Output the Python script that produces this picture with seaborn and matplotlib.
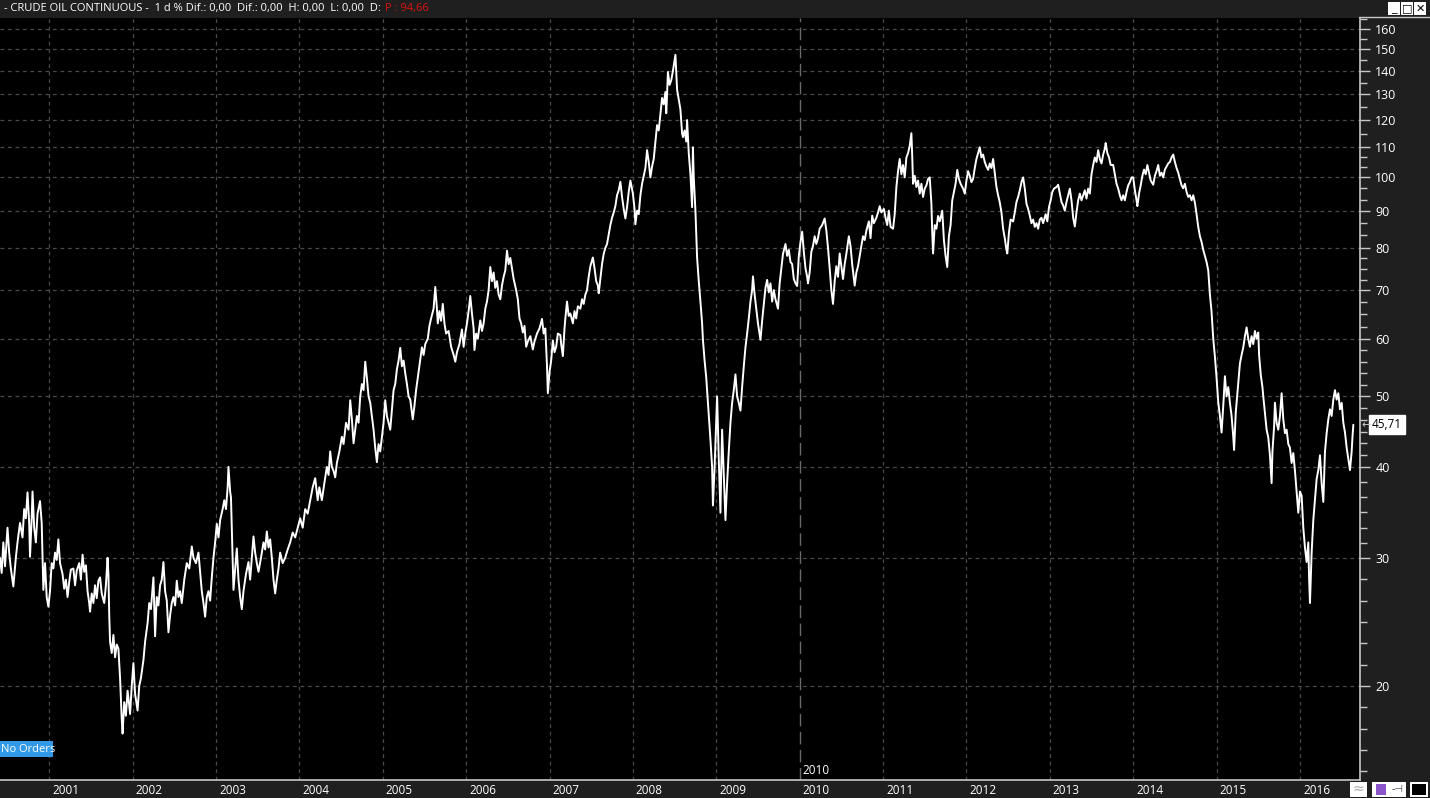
import numpy as np
import pandas as pd
import matplotlib
matplotlib.use("Agg")
import matplotlib.pyplot as plt
import matplotlib.transforms as mtransforms
from matplotlib.patches import Rectangle
from matplotlib.ticker import FixedLocator, NullFormatter
import seaborn as sns

# price path, one list per year: (decimal year, price)
seg_2000 = [(2000.41, 30.0), (2000.43, 28.6), (2000.45, 31.5), (2000.47, 29.2), (2000.50, 33.0),
            (2000.52, 30.5), (2000.54, 29.0), (2000.57, 27.4), (2000.60, 30.0), (2000.62, 31.5),
            (2000.65, 33.5), (2000.68, 32.0), (2000.70, 35.0), (2000.72, 34.0), (2000.74, 36.9),
            (2000.76, 33.5), (2000.77, 30.1), (2000.79, 34.0), (2000.80, 37.0), (2000.82, 33.0),
            (2000.84, 31.5), (2000.86, 34.5), (2000.89, 35.9), (2000.91, 33.5), (2000.93, 27.1),
            (2000.95, 29.5), (2000.97, 26.5), (2000.99, 25.7)]
seg_2001 = [(2001.01, 27.0), (2001.03, 29.5), (2001.05, 29.0), (2001.07, 30.5), (2001.09, 29.8),
            (2001.11, 31.8), (2001.13, 29.5), (2001.16, 28.5), (2001.18, 27.2), (2001.20, 28.0),
            (2001.22, 26.5), (2001.24, 27.8), (2001.26, 28.9), (2001.29, 29.0), (2001.31, 27.5),
            (2001.33, 28.8), (2001.36, 29.5), (2001.38, 28.0), (2001.40, 30.3), (2001.42, 28.7),
            (2001.44, 29.3), (2001.46, 27.0), (2001.48, 26.0), (2001.49, 25.3), (2001.51, 26.8),
            (2001.53, 26.0), (2001.55, 27.5), (2001.57, 26.4), (2001.59, 27.9), (2001.61, 28.2),
            (2001.63, 26.8), (2001.66, 26.0), (2001.68, 27.5), (2001.70, 30.0), (2001.71, 28.5),
            (2001.72, 25.0), (2001.73, 23.0), (2001.75, 22.2), (2001.77, 23.5), (2001.79, 21.9),
            (2001.81, 22.8), (2001.83, 22.5), (2001.85, 20.5), (2001.87, 18.0), (2001.88, 17.2),
            (2001.90, 19.0), (2001.92, 18.2), (2001.94, 19.7), (2001.96, 18.8), (2001.97, 18.3),
            (2001.99, 20.0)]
seg_2002 = [(2002.01, 21.5), (2002.03, 19.5), (2002.06, 18.5), (2002.08, 20.0), (2002.10, 20.5),
            (2002.13, 21.7), (2002.15, 23.0), (2002.18, 24.4), (2002.20, 26.0), (2002.22, 25.5),
            (2002.25, 28.2), (2002.27, 23.4), (2002.29, 26.5), (2002.31, 25.8), (2002.33, 27.5),
            (2002.35, 28.0), (2002.37, 29.6), (2002.39, 27.0), (2002.41, 26.2), (2002.43, 23.7),
            (2002.45, 25.0), (2002.47, 26.0), (2002.49, 26.5), (2002.51, 25.8), (2002.53, 27.9),
            (2002.55, 26.5), (2002.57, 27.0), (2002.59, 26.0), (2002.62, 28.0), (2002.65, 29.5),
            (2002.68, 29.0), (2002.71, 31.1), (2002.73, 30.0), (2002.76, 29.5), (2002.79, 30.5),
            (2002.81, 28.7), (2002.83, 27.0), (2002.85, 26.0), (2002.87, 24.9), (2002.89, 26.5),
            (2002.91, 27.0), (2002.93, 26.2), (2002.95, 28.2), (2002.97, 30.0), (2002.99, 31.5)]
seg_2003 = [(2003.01, 33.4), (2003.03, 32.0), (2003.05, 33.8), (2003.08, 35.0), (2003.10, 36.0),
            (2003.12, 35.0), (2003.14, 37.5), (2003.15, 40.0), (2003.17, 37.0), (2003.18, 36.3),
            (2003.20, 30.0), (2003.21, 27.1), (2003.23, 29.0), (2003.25, 30.9), (2003.27, 28.0),
            (2003.29, 26.5), (2003.31, 25.5), (2003.33, 27.0), (2003.36, 28.5), (2003.39, 29.6),
            (2003.41, 28.0), (2003.43, 30.0), (2003.45, 32.1), (2003.47, 30.5), (2003.49, 29.5),
            (2003.51, 28.7), (2003.54, 30.0), (2003.57, 31.5), (2003.59, 30.8), (2003.61, 32.6),
            (2003.63, 31.0), (2003.65, 31.8), (2003.67, 30.0), (2003.69, 28.0), (2003.71, 26.8),
            (2003.73, 28.0), (2003.75, 29.0), (2003.77, 30.5), (2003.80, 29.5), (2003.83, 30.0),
            (2003.86, 30.8), (2003.89, 31.5), (2003.92, 32.5), (2003.95, 32.0), (2003.98, 33.0)]
seg_2004 = [(2004.01, 34.0), (2004.04, 33.0), (2004.07, 35.0), (2004.10, 34.5), (2004.13, 36.0),
            (2004.16, 37.5), (2004.19, 38.6), (2004.22, 36.0), (2004.24, 37.5), (2004.27, 36.0),
            (2004.30, 38.0), (2004.33, 40.0), (2004.35, 39.0), (2004.37, 42.0), (2004.39, 40.0),
            (2004.41, 39.5), (2004.43, 38.7), (2004.45, 40.5), (2004.48, 42.0), (2004.51, 44.0),
            (2004.53, 43.0), (2004.56, 46.0), (2004.59, 45.0), (2004.61, 49.4), (2004.63, 46.5),
            (2004.65, 43.1), (2004.67, 45.0), (2004.69, 47.0), (2004.71, 46.0), (2004.73, 50.0),
            (2004.75, 52.0), (2004.77, 51.0), (2004.79, 55.8), (2004.81, 53.0), (2004.83, 50.0),
            (2004.85, 49.0), (2004.87, 47.0), (2004.89, 45.0), (2004.91, 42.5), (2004.93, 40.6),
            (2004.95, 43.0), (2004.97, 42.0), (2004.99, 44.0)]
seg_2005 = [(2005.01, 46.0), (2005.03, 49.4), (2005.05, 47.0), (2005.07, 46.0), (2005.09, 45.0),
            (2005.11, 48.0), (2005.13, 51.0), (2005.15, 52.0), (2005.17, 54.5), (2005.19, 56.0),
            (2005.21, 58.3), (2005.23, 55.0), (2005.25, 56.0), (2005.27, 53.8), (2005.29, 52.0),
            (2005.31, 50.0), (2005.33, 49.5), (2005.36, 46.5), (2005.38, 48.5), (2005.40, 51.0),
            (2005.42, 53.0), (2005.44, 55.0), (2005.47, 58.4), (2005.49, 57.0), (2005.51, 59.0),
            (2005.54, 60.0), (2005.56, 62.5), (2005.58, 64.0), (2005.61, 66.0), (2005.63, 70.7),
            (2005.65, 66.0), (2005.66, 63.0), (2005.68, 65.5), (2005.70, 63.5), (2005.72, 67.0),
            (2005.74, 63.0), (2005.76, 61.0), (2005.79, 61.5), (2005.82, 58.5), (2005.85, 57.0),
            (2005.87, 55.8), (2005.89, 57.5), (2005.92, 59.0), (2005.95, 61.8), (2005.97, 58.5),
            (2005.99, 61.0)]
seg_2006 = [(2006.01, 63.0), (2006.03, 65.5), (2006.05, 68.7), (2006.07, 65.0), (2006.09, 62.0),
            (2006.10, 57.9), (2006.12, 61.0), (2006.14, 60.0), (2006.17, 63.6), (2006.19, 61.5),
            (2006.21, 63.0), (2006.23, 66.0), (2006.25, 67.5), (2006.27, 70.0), (2006.29, 75.3),
            (2006.31, 72.0), (2006.33, 74.0), (2006.35, 70.5), (2006.37, 72.0), (2006.39, 69.0),
            (2006.41, 68.0), (2006.43, 71.0), (2006.45, 73.0), (2006.47, 74.5), (2006.49, 79.3),
            (2006.51, 76.0), (2006.53, 77.5), (2006.55, 75.0), (2006.57, 72.5), (2006.60, 70.0),
            (2006.62, 68.0), (2006.64, 64.0), (2006.66, 63.0), (2006.68, 61.2), (2006.70, 62.5),
            (2006.72, 58.5), (2006.74, 59.5), (2006.77, 60.5), (2006.80, 58.0), (2006.82, 59.5),
            (2006.85, 61.0), (2006.88, 62.0), (2006.91, 63.9), (2006.93, 61.0), (2006.95, 62.0),
            (2006.97, 55.0), (2006.98, 50.5)]
seg_2007 = [(2007.00, 54.0), (2007.02, 56.0), (2007.04, 59.7), (2007.06, 57.5), (2007.08, 58.5),
            (2007.10, 61.0), (2007.13, 60.7), (2007.14, 59.0), (2007.16, 56.8), (2007.18, 62.0),
            (2007.19, 64.0), (2007.21, 67.5), (2007.23, 64.5), (2007.25, 65.0), (2007.28, 63.0),
            (2007.30, 65.5), (2007.32, 64.0), (2007.34, 66.5), (2007.37, 66.0), (2007.39, 68.0),
            (2007.41, 67.0), (2007.43, 69.0), (2007.45, 70.0), (2007.47, 73.0), (2007.49, 75.5),
            (2007.52, 77.6), (2007.54, 75.0), (2007.56, 72.0), (2007.58, 71.0), (2007.59, 69.3),
            (2007.61, 72.5), (2007.63, 76.0), (2007.65, 78.5), (2007.67, 80.0), (2007.69, 81.0),
            (2007.71, 83.5), (2007.73, 86.0), (2007.75, 88.0), (2007.77, 89.5), (2007.79, 91.3),
            (2007.81, 94.5), (2007.83, 96.0), (2007.85, 98.6), (2007.87, 94.0), (2007.89, 90.5),
            (2007.91, 87.8), (2007.93, 91.0), (2007.95, 95.5), (2007.97, 99.0)]
seg_2008 = [(2008.00, 95.0), (2008.02, 90.5), (2008.03, 86.2), (2008.05, 90.0), (2008.07, 89.0),
            (2008.09, 94.5), (2008.11, 98.0), (2008.13, 100.5), (2008.15, 103.0), (2008.17, 109.0),
            (2008.19, 105.0), (2008.21, 100.0), (2008.23, 103.5), (2008.25, 106.0), (2008.27, 112.0),
            (2008.29, 118.0), (2008.31, 116.0), (2008.33, 122.0), (2008.35, 128.6), (2008.37, 126.0),
            (2008.39, 131.0), (2008.40, 122.5), (2008.41, 130.0), (2008.42, 139.6), (2008.44, 134.0),
            (2008.46, 136.0), (2008.48, 140.0), (2008.50, 145.0), (2008.51, 147.4), (2008.53, 132.0),
            (2008.55, 128.0), (2008.57, 124.0), (2008.59, 115.0), (2008.60, 113.6), (2008.62, 116.0),
            (2008.64, 112.0), (2008.65, 119.9), (2008.67, 108.0), (2008.69, 101.0), (2008.71, 91.0),
            (2008.72, 110.0), (2008.73, 100.0), (2008.75, 90.0), (2008.77, 77.6), (2008.79, 72.0),
            (2008.81, 67.5), (2008.83, 63.0), (2008.84, 59.8), (2008.86, 56.0), (2008.88, 53.0),
            (2008.89, 51.0), (2008.91, 47.0), (2008.93, 43.6), (2008.95, 40.0), (2008.96, 35.4),
            (2008.98, 40.0)]
seg_2009 = [(2009.01, 50.0), (2009.03, 41.0), (2009.05, 34.6), (2009.06, 40.0), (2009.07, 45.0),
            (2009.09, 39.0), (2009.11, 33.8), (2009.13, 38.0), (2009.15, 42.0), (2009.17, 46.0),
            (2009.19, 49.0), (2009.21, 51.0), (2009.23, 53.6), (2009.25, 50.0), (2009.27, 49.0),
            (2009.29, 47.8), (2009.31, 51.5), (2009.33, 55.0), (2009.35, 58.4), (2009.37, 61.0),
            (2009.39, 64.0), (2009.41, 67.5), (2009.43, 70.0), (2009.44, 73.1), (2009.46, 69.0),
            (2009.48, 66.0), (2009.50, 63.0), (2009.53, 59.8), (2009.55, 63.5), (2009.57, 67.0),
            (2009.59, 70.5), (2009.61, 72.3), (2009.63, 69.5), (2009.65, 71.5), (2009.67, 67.5),
            (2009.69, 70.0), (2009.71, 68.0), (2009.74, 66.0), (2009.76, 71.5), (2009.78, 75.0),
            (2009.80, 78.5), (2009.83, 81.0), (2009.85, 78.0), (2009.87, 79.5), (2009.89, 76.5),
            (2009.91, 76.0), (2009.93, 72.5), (2009.95, 71.5), (2009.97, 70.9), (2009.99, 78.0)]
seg_2010 = [(2010.01, 81.5), (2010.03, 84.2), (2010.05, 79.0), (2010.07, 75.0), (2010.09, 73.0),
            (2010.10, 71.5), (2010.12, 74.0), (2010.14, 79.0), (2010.16, 80.5), (2010.18, 83.0),
            (2010.20, 81.0), (2010.22, 82.5), (2010.24, 85.0), (2010.27, 86.0), (2010.30, 87.8),
            (2010.32, 84.5), (2010.34, 80.0), (2010.36, 75.0), (2010.38, 70.0), (2010.40, 67.0),
            (2010.42, 72.0), (2010.44, 75.5), (2010.46, 73.0), (2010.48, 78.6), (2010.50, 75.5),
            (2010.52, 72.5), (2010.54, 76.0), (2010.56, 78.5), (2010.59, 83.0), (2010.61, 80.5),
            (2010.63, 76.0), (2010.66, 71.0), (2010.68, 74.0), (2010.70, 75.5), (2010.72, 78.0),
            (2010.74, 80.5), (2010.76, 83.0), (2010.78, 82.0), (2010.80, 84.5), (2010.83, 87.0),
            (2010.85, 82.5), (2010.87, 88.6), (2010.89, 86.5), (2010.92, 88.0), (2010.94, 89.5),
            (2010.96, 91.3), (2010.98, 89.5)]
seg_2011 = [(2011.01, 90.5), (2011.03, 88.0), (2011.05, 86.0), (2011.07, 90.0), (2011.09, 85.5),
            (2011.12, 85.0), (2011.14, 89.0), (2011.16, 97.0), (2011.18, 102.0), (2011.20, 106.0),
            (2011.22, 101.0), (2011.24, 104.0), (2011.26, 100.0), (2011.28, 106.5), (2011.30, 108.0),
            (2011.32, 110.5), (2011.34, 115.0), (2011.35, 107.0), (2011.36, 98.0), (2011.38, 100.5),
            (2011.40, 97.0), (2011.42, 99.0), (2011.44, 95.0), (2011.46, 98.0), (2011.48, 94.0),
            (2011.50, 96.5), (2011.52, 97.5), (2011.54, 99.5), (2011.56, 100.0), (2011.58, 92.0),
            (2011.59, 84.0), (2011.60, 78.6), (2011.62, 86.0), (2011.64, 85.0), (2011.66, 88.5),
            (2011.68, 87.0), (2011.71, 90.0), (2011.73, 82.0), (2011.75, 78.0), (2011.77, 75.3),
            (2011.79, 83.0), (2011.81, 86.0), (2011.83, 93.0), (2011.85, 95.5), (2011.87, 98.0),
            (2011.89, 102.4), (2011.91, 99.5), (2011.93, 98.0), (2011.96, 96.5), (2011.98, 95.0)]
seg_2012 = [(2012.00, 99.0), (2012.02, 102.0), (2012.04, 100.5), (2012.06, 98.5), (2012.08, 99.5),
            (2012.10, 103.0), (2012.12, 106.0), (2012.14, 108.0), (2012.16, 110.0), (2012.18, 106.5),
            (2012.20, 107.5), (2012.22, 105.0), (2012.24, 103.5), (2012.26, 102.4), (2012.28, 104.5),
            (2012.30, 103.0), (2012.32, 106.0), (2012.34, 101.5), (2012.36, 97.0), (2012.38, 94.5),
            (2012.40, 92.4), (2012.42, 89.5), (2012.44, 85.0), (2012.46, 82.5), (2012.48, 79.5),
            (2012.49, 78.6), (2012.51, 84.0), (2012.53, 87.5), (2012.56, 87.0), (2012.58, 89.5),
            (2012.60, 92.5), (2012.62, 94.0), (2012.64, 96.0), (2012.66, 98.5), (2012.68, 100.0),
            (2012.70, 96.5), (2012.72, 92.0), (2012.74, 90.5), (2012.76, 88.6), (2012.78, 86.5),
            (2012.80, 87.5), (2012.82, 85.5), (2012.84, 86.5), (2012.86, 85.0), (2012.88, 87.5),
            (2012.90, 88.0), (2012.92, 86.5), (2012.95, 89.0), (2012.97, 87.0), (2012.99, 91.0)]
seg_2013 = [(2013.01, 93.0), (2013.03, 95.5), (2013.05, 96.5), (2013.08, 97.0), (2013.10, 97.7),
            (2013.12, 95.0), (2013.14, 92.5), (2013.16, 91.5), (2013.18, 90.0), (2013.20, 92.5),
            (2013.22, 94.5), (2013.24, 96.5), (2013.26, 93.0), (2013.28, 88.0), (2013.30, 85.6),
            (2013.32, 89.5), (2013.34, 93.0), (2013.36, 95.0), (2013.38, 93.0), (2013.40, 94.5),
            (2013.42, 96.0), (2013.44, 93.5), (2013.46, 96.5), (2013.48, 95.0), (2013.50, 101.0),
            (2013.52, 104.0), (2013.54, 106.5), (2013.56, 105.0), (2013.58, 109.0), (2013.60, 106.0),
            (2013.62, 104.5), (2013.64, 107.5), (2013.66, 109.5), (2013.67, 111.5), (2013.69, 108.0),
            (2013.71, 106.5), (2013.73, 104.0), (2013.76, 104.0), (2013.78, 101.0), (2013.80, 98.0),
            (2013.82, 96.5), (2013.84, 94.5), (2013.86, 93.0), (2013.88, 94.5), (2013.90, 93.0),
            (2013.92, 95.5), (2013.94, 97.5), (2013.96, 98.5), (2013.98, 100.0)]
seg_2014 = [(2014.00, 100.0), (2014.02, 96.0), (2014.04, 93.0), (2014.05, 91.3), (2014.07, 95.0),
            (2014.09, 97.5), (2014.11, 100.5), (2014.13, 102.5), (2014.15, 101.0), (2014.17, 104.0),
            (2014.19, 101.5), (2014.21, 99.0), (2014.24, 97.7), (2014.26, 100.5), (2014.28, 102.0),
            (2014.30, 104.0), (2014.32, 100.5), (2014.34, 101.5), (2014.36, 100.0), (2014.38, 102.5),
            (2014.40, 103.5), (2014.42, 104.5), (2014.44, 105.0), (2014.46, 106.5), (2014.48, 107.5),
            (2014.50, 105.0), (2014.52, 103.0), (2014.54, 101.5), (2014.56, 99.5), (2014.58, 97.5),
            (2014.60, 96.6), (2014.62, 98.0), (2014.64, 95.5), (2014.66, 94.0), (2014.68, 94.5),
            (2014.70, 93.0), (2014.72, 94.5), (2014.74, 92.3), (2014.76, 89.0), (2014.78, 85.5),
            (2014.80, 83.0), (2014.82, 81.5), (2014.84, 79.5), (2014.86, 78.0), (2014.88, 76.5),
            (2014.90, 74.5), (2014.92, 69.0), (2014.94, 65.3), (2014.96, 60.0), (2014.98, 56.7)]
seg_2015 = [(2015.00, 53.0), (2015.02, 49.1), (2015.04, 47.0), (2015.06, 44.6), (2015.08, 48.5),
            (2015.10, 53.3), (2015.12, 50.0), (2015.14, 51.5), (2015.16, 49.0), (2015.18, 47.0),
            (2015.20, 44.0), (2015.21, 42.2), (2015.23, 47.5), (2015.25, 50.5), (2015.26, 52.0),
            (2015.28, 55.5), (2015.30, 57.0), (2015.32, 58.4), (2015.34, 60.5), (2015.36, 62.2),
            (2015.38, 60.0), (2015.40, 58.5), (2015.42, 60.5), (2015.44, 59.0), (2015.46, 61.5),
            (2015.48, 60.0), (2015.50, 61.2), (2015.51, 57.0), (2015.53, 53.5), (2015.55, 51.5),
            (2015.56, 50.0), (2015.58, 47.5), (2015.60, 45.0), (2015.62, 43.9), (2015.64, 41.5),
            (2015.66, 38.0), (2015.67, 42.0), (2015.69, 45.5), (2015.70, 49.0), (2015.72, 46.0),
            (2015.74, 45.0), (2015.76, 47.0), (2015.78, 50.5), (2015.80, 46.5), (2015.82, 44.5),
            (2015.84, 45.0), (2015.86, 43.0), (2015.88, 42.5), (2015.90, 40.5), (2015.92, 41.8),
            (2015.94, 39.5), (2015.96, 37.0), (2015.98, 34.6)]
seg_2016 = [(2016.00, 37.0), (2016.02, 36.5), (2016.04, 33.0), (2016.06, 31.0), (2016.08, 29.6),
            (2016.10, 31.5), (2016.11, 28.0), (2016.12, 26.0), (2016.14, 30.5), (2016.16, 33.8),
            (2016.18, 36.0), (2016.20, 38.5), (2016.22, 39.6), (2016.24, 41.5), (2016.26, 38.0),
            (2016.28, 35.8), (2016.30, 42.0), (2016.32, 44.5), (2016.34, 46.5), (2016.36, 48.0),
            (2016.38, 47.0), (2016.40, 49.5), (2016.42, 51.0), (2016.44, 49.5), (2016.46, 50.5),
            (2016.48, 48.0), (2016.50, 49.0), (2016.52, 46.0), (2016.54, 44.6), (2016.56, 42.5),
            (2016.58, 41.0), (2016.60, 39.6), (2016.62, 42.0), (2016.63, 44.0), (2016.64, 45.71)]

year_ticks = list(range(2001, 2017))
price_ticks = [20, 30, 40, 50, 60, 70, 80, 90, 100, 110, 120, 130, 140, 150, 160]
minor_steps = [6, 6, 6, 5, 4, 4, 3, 3, 3, 2, 2, 2, 2, 2]
last_price = 45.71
last_label = "45,71"
title_text = "- CRUDE OIL CONTINUOUS -  1 d % Dif.: 0,00  Dif.: 0,00  H: 0,00  L: 0,00  D:"
title_price = "P : 94,66"

segments = [seg_2000, seg_2001, seg_2002, seg_2003, seg_2004, seg_2005, seg_2006, seg_2007,
            seg_2008, seg_2009, seg_2010, seg_2011, seg_2012, seg_2013, seg_2014, seg_2015,
            seg_2016]
df = pd.DataFrame([p for seg in segments for p in seg], columns=["year", "price"])

sns.set_theme(style="dark")
plt.rcParams["font.family"] = ["Open Sans", "DejaVu Sans"]

W, H = 1430, 798
BG = "#1f1f1f"
AXC = "#c8c8c8"
GRID = "#4a4a4a"


def fx(x):
    return x / W


def fy(y):
    return 1 - y / H


fig = plt.figure(figsize=(W / 100, H / 100), dpi=100, facecolor=BG)
ax = fig.add_axes([0, 18 / H, 1360 / W, 762 / H])
ax.set_facecolor("black")

for v in price_ticks:
    ax.axhline(v, color=GRID, lw=0.9, ls=(0, (3, 3)), zorder=1)
for yr in year_ticks:
    if yr == 2010:
        ax.axvline(yr, color="#6a6a6a", lw=1.0, ls=(0, (9, 4)), zorder=1)
    else:
        ax.axvline(yr, color=GRID, lw=0.9, ls=(0, (3, 3)), zorder=1)

sns.lineplot(data=df, x="year", y="price", ax=ax, color="white", lw=1.4,
             estimator=None, sort=False, zorder=3)

ax.set_yscale("log")
ax.set_xlim(2000.41, 2016.72)
ax.set_ylim(14.85, 165.6)
ax.set_xlabel("")
ax.set_ylabel("")
ax.grid(False)

# right price scale
ax.yaxis.tick_right()
ax.set_yticks(price_ticks)
ax.set_yticklabels([str(v) for v in price_ticks])
minor = []
for (a, b), n in zip(zip(price_ticks[:-1], price_ticks[1:]), minor_steps):
    minor += [a * (b / a) ** (k / n) for k in range(1, n)]
minor += [20 * 1.5 ** (-k / 6) for k in range(1, 5)]
minor += [160 * (160 / 150) ** 0.5]
ax.yaxis.set_minor_locator(FixedLocator(minor))
ax.yaxis.set_minor_formatter(NullFormatter())
ax.tick_params(axis="y", which="major", length=7, width=1, color=AXC,
               labelcolor="white", labelsize=9, pad=4, direction="out")
ax.tick_params(axis="y", which="minor", length=5, width=1, color=AXC, direction="out")

# time scale
ax.set_xticks(year_ticks)
ax.set_xticklabels([])
ax.tick_params(axis="x", which="major", length=7, width=1, color=AXC, direction="out")
for s in ["top", "left"]:
    ax.spines[s].set_visible(False)
for s in ["right", "bottom"]:
    ax.spines[s].set_color(AXC)
    ax.spines[s].set_linewidth(1.2)

base = mtransforms.blended_transform_factory(ax.transData, ax.transAxes)
lab_tr = base + mtransforms.ScaledTranslation(3 / 100, -11 / 100, fig.dpi_scale_trans)
for yr in year_ticks:
    ax.text(yr, 0, str(yr), transform=lab_tr, color="white", fontsize=8.5,
            ha="left", va="center", clip_on=False)
in_tr = base + mtransforms.ScaledTranslation(3 / 100, 10 / 100, fig.dpi_scale_trans)
ax.text(2010, 0, "2010", transform=in_tr, color="white", fontsize=8.5, ha="left", va="center")

# last price tag
ax.annotate(last_label, xy=(1, last_price), xycoords=("axes fraction", "data"),
            xytext=(12, 0), textcoords="offset pixels", color="black", fontsize=8.5,
            ha="left", va="center", annotation_clip=False,
            bbox=dict(boxstyle="square,pad=0.25", fc="white", ec="white"))
ax.annotate("\u2190", xy=(1, last_price), xycoords=("axes fraction", "data"),
            xytext=(2, 0), textcoords="offset pixels", color=AXC, fontsize=8,
            ha="left", va="center", annotation_clip=False, family="DejaVu Sans")

# "No Orders" badge
fig.patches.append(Rectangle((fx(0), fy(757)), fx(53), 16 / H, transform=fig.transFigure,
                             fc="#3199e8", ec="none"))
fig.text(fx(1), fy(749), "No Orders", color="white", fontsize=8, ha="left", va="center")

# header bar
fig.text(fx(4), fy(9), title_text, color="white", fontsize=8, ha="left", va="center")
fig.text(fx(385), fy(9), title_price, color="#e01010", fontsize=8, ha="left", va="center")
fig.lines.append(plt.Line2D([fx(1359), 1], [fy(16.5), fy(16.5)], transform=fig.transFigure,
                            color=AXC, lw=1))

# window buttons
for x0, glyph in [(1388, "_"), (1401, "\u25a1"), (1414, "\u2715")]:
    fig.patches.append(Rectangle((fx(x0), fy(15)), 12 / W, 13 / H, transform=fig.transFigure,
                                 fc="white", ec="none"))
    fig.text(fx(x0 + 6), fy(8.5), glyph, color="black", fontsize=8, ha="center", va="center",
             family="DejaVu Sans")

# bottom-right toolbar
fig.patches.append(Rectangle((fx(1350), fy(797)), 17 / W, 15 / H, transform=fig.transFigure,
                             fc="white", ec="none"))
fig.text(fx(1358.5), fy(789), "\u2248", color="#aaaaaa", fontsize=10, ha="center", va="center",
         family="DejaVu Sans")
fig.patches.append(Rectangle((fx(1372), fy(797)), 34 / W, 15 / H, transform=fig.transFigure,
                             fc="white", ec="none"))
fig.patches.append(Rectangle((fx(1376), fy(795)), 10 / W, 11 / H, transform=fig.transFigure,
                             fc="#8a55c8", ec="none"))
fig.text(fx(1398), fy(789), "-\u22a3", color="#444444", fontsize=7, ha="center", va="center",
         family="DejaVu Sans")
fig.patches.append(Rectangle((fx(1410), fy(797)), 18 / W, 15 / H, transform=fig.transFigure,
                             fc="white", ec="none"))
fig.patches.append(Rectangle((fx(1412), fy(795)), 14 / W, 11 / H, transform=fig.transFigure,
                             fc="black", ec="none"))

fig.savefig("out.png", dpi=100, facecolor=BG)
